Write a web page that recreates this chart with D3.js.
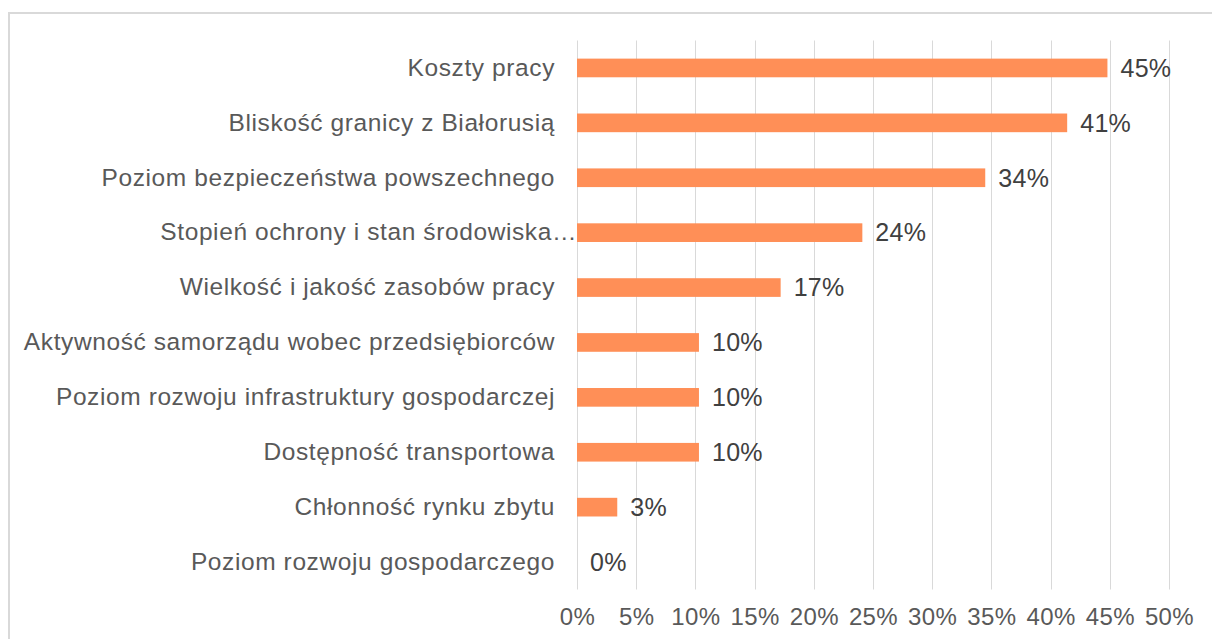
<!DOCTYPE html>
<html>
<head>
<meta charset="utf-8">
<script src="https://cdn.jsdelivr.net/npm/d3@7"></script>
<style>
    body { margin: 0; background: #fff; }
    text { font-family: "Liberation Sans", Arial, sans-serif; }
</style>
</head>
<body>
<div id="chart"></div>
<script>
// categories, top to bottom
const categories = [
    "Koszty pracy",
    "Bliskość granicy z Białorusią",
    "Poziom bezpieczeństwa powszechnego",
    "Stopień ochrony i stan środowiska…",
    "Wielkość i jakość zasobów pracy",
    "Aktywność samorządu wobec przedsiębiorców",
    "Poziom rozwoju infrastruktury gospodarczej",
    "Dostępność transportowa",
    "Chłonność rynku zbytu",
    "Poziom rozwoju gospodarczego"
];
// share of answers (bar lengths)
const values = [0.448, 0.414, 0.3448, 0.241, 0.172, 0.103, 0.103, 0.103, 0.034, 0];
const xTicks = [0, 0.05, 0.1, 0.15, 0.2, 0.25, 0.3, 0.35, 0.4, 0.45, 0.5];

const width = 1212, height = 639;
const margin = {top: 40.5, right: 43, bottom: 49.5, left: 577};

const svg = d3.select("#chart").append("svg")
    .attr("width", width)
    .attr("height", height);

// chart frame (runs off the right and bottom edges)
svg.append("rect")
    .attr("x", 9)
    .attr("y", 13)
    .attr("width", width + 10)
    .attr("height", height + 10)
    .attr("fill", "none")
    .attr("stroke", "#d9d9d9")
    .attr("stroke-width", 2);

const x = d3.scaleLinear()
    .domain([0, 0.5])
    .range([margin.left, width - margin.right]);

const y = d3.scaleBand()
    .domain(categories)
    .range([margin.top, height - margin.bottom])
    .paddingInner(0.66)
    .paddingOuter(0.33);

const pct = d3.format(".0%");

// gridlines
svg.append("g")
    .attr("stroke", "#d9d9d9")
    .attr("stroke-width", 1)
    .selectAll("line")
    .data(xTicks)
    .join("line")
    .attr("x1", d => Math.round(x(d)) + 0.5)
    .attr("x2", d => Math.round(x(d)) + 0.5)
    .attr("y1", margin.top)
    .attr("y2", height - margin.bottom);

// x axis labels
const xAxis = svg.append("g")
    .attr("transform", `translate(0,${height - margin.bottom + 10})`)
    .call(d3.axisBottom(x).tickValues(xTicks).tickFormat(pct).tickSize(0).tickPadding(8));
xAxis.select(".domain").remove();
xAxis.selectAll("text")
    .attr("fill", "#595959")
    .attr("font-size", 24)
    .style("letter-spacing", "0.4px")
    .style("font-family", "'Liberation Sans', Arial, sans-serif");

// category labels
const yAxis = svg.append("g")
    .attr("transform", `translate(${margin.left},0)`)
    .call(d3.axisLeft(y).tickSize(0).tickPadding(22));
yAxis.select(".domain").remove();
yAxis.selectAll("text")
    .attr("fill", "#595959")
    .attr("font-size", 24.5)
    .style("letter-spacing", "0.6px")
    .style("font-family", "'Liberation Sans', Arial, sans-serif")
    .attr("x", d => d.endsWith("…") ? 0 : -22);

// bars
svg.append("g")
    .selectAll("rect")
    .data(values)
    .join("rect")
    .attr("x", x(0))
    .attr("y", (d, i) => y(categories[i]))
    .attr("width", d => x(d) - x(0))
    .attr("height", y.bandwidth())
    .attr("fill", "#ff8f57");

// value labels
svg.append("g")
    .selectAll("text")
    .data(values)
    .join("text")
    .attr("x", d => x(d) + 13)
    .attr("y", (d, i) => y(categories[i]) + y.bandwidth() / 2)
    .attr("dy", "0.35em")
    .attr("fill", "#404040")
    .attr("font-size", 25)
    .style("letter-spacing", "0.3px")
    .text(d => pct(d));
</script>
</body>
</html>
